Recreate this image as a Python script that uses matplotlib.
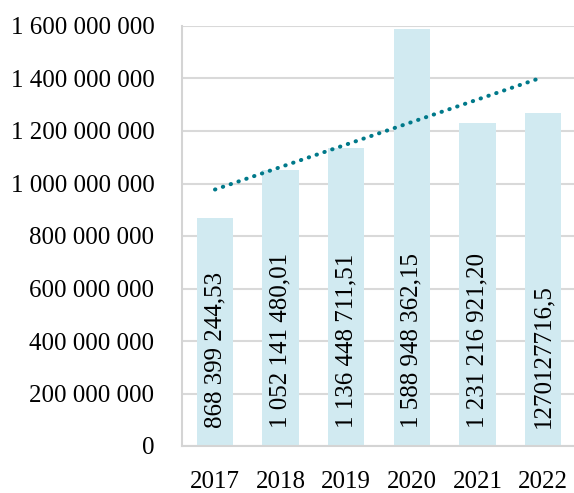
import numpy as np
import matplotlib
matplotlib.use("Agg")
import matplotlib.pyplot as plt
from matplotlib.ticker import FuncFormatter

years = ["2017", "2018", "2019", "2020", "2021", "2022"]
values = [868399244.53, 1052141480.01, 1136448711.51, 1588948362.15, 1231216921.20, 1270127716.5]
labels = ["868 399 244,53", "1 052 141 480,01", "1 136 448 711,51",
          "1 588 948 362,15", "1 231 216 921,20", "1270127716,5"]
yticks = [0, 200e6, 400e6, 600e6, 800e6, 1000e6, 1200e6, 1400e6, 1600e6]

plt.rcParams['font.family'] = ['Liberation Serif', 'DejaVu Serif']

W, H = 574, 493
fig = plt.figure(figsize=(W/100, H/100), dpi=100)
left, right, top, bottom = 182.2, 575.8, 26, 446
ax = fig.add_axes([left/W, 1-bottom/H, (right-left)/W, (bottom-top)/H])

x = np.arange(len(years))
ax.bar(x, values, width=0.556, color="#d1eaf1", zorder=2)

coef = np.polyfit(x, values, 1)
ax.plot(x, np.polyval(coef, x), linestyle=(0, (0.1, 1.95)), dash_capstyle='round',
        color="#00798a", linewidth=2.9, zorder=3)

for xi, lab in zip(x, labels):
    ax.annotate(lab, (xi, 0), xytext=(0, 18), textcoords='offset pixels',
                rotation=90, ha='center', va='bottom', fontsize=18, color='black', zorder=4)

ax.set_xlim(-0.5, len(years)-0.5)
ax.set_ylim(0, 1600e6)
ax.set_yticks(yticks)
ax.yaxis.set_major_formatter(FuncFormatter(lambda v, p: f"{int(v):,}".replace(",", " ")))
ax.set_xticks(x)
ax.set_xticklabels(years)
ax.tick_params(axis='both', length=0, labelsize=18, colors='black')
ax.tick_params(axis='y', pad=20)
ax.tick_params(axis='x', pad=18)
ax.grid(axis='y', color='#d9d9d9', linewidth=1.5, zorder=0)
ax.set_axisbelow(True)
for s in ['top', 'right']:
    ax.spines[s].set_visible(False)
for s in ['left', 'bottom']:
    ax.spines[s].set_color('#d4d4d4')
    ax.spines[s].set_linewidth(1.5)

fig.savefig("out.png", dpi=100)
